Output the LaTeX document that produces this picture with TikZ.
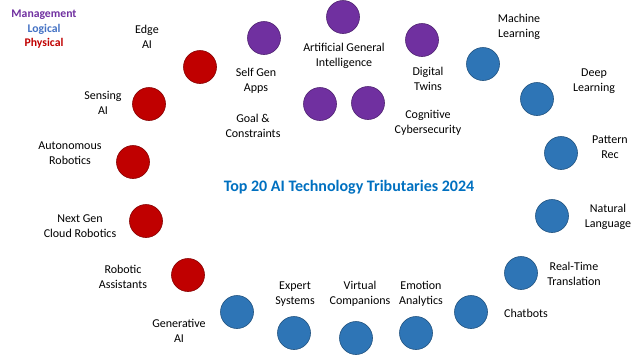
\documentclass[tikz,border=0pt]{standalone}
\usepackage{fontspec}
\setmainfont{Carlito}
\definecolor{physred}{HTML}{C00000}
\definecolor{mgmtpurple}{HTML}{7030A0}
\definecolor{logiblue}{HTML}{2E75B6}
\definecolor{legblue}{HTML}{4472C4}
\definecolor{titleblue}{HTML}{0070C0}
\begin{document}
\begin{tikzpicture}[x=1pt,y=-1pt,
  dot/.style={circle,minimum size=33pt,inner sep=0pt,line width=0.6pt},
  phys/.style={dot,fill=physred,draw=physred!70!black},
  mgmt/.style={dot,fill=mgmtpurple,draw=mgmtpurple!70!black},
  logi/.style={dot,fill=logiblue,draw=logiblue!70!black},
  lbl/.style={align=center,font=\fontsize{12}{15}\selectfont,inner sep=0pt},
  leg/.style={font=\fontsize{11.7}{14}\selectfont\bfseries,inner sep=0pt}]
\useasboundingbox (0,0) rectangle (640,360);
% legend
\node[leg,text=mgmtpurple] (lm) at (44,15) {Management};
\node[leg,text=legblue] (ll) at (44,29) {Logical};
\node[leg,text=physred] (lp) at (44,43) {Physical};
% title
\node[font=\fontsize{16}{19}\selectfont\bfseries,text=titleblue,inner sep=0pt] (title) at (349,187) {Top 20 AI Technology Tributaries 2024};
% physical
\node[phys] (edge) at (200,67) {};
\node[lbl] (edgel) at (147,37) {Edge\\AI};
\node[phys] (sens) at (149,104) {};
\node[lbl] (sensl) at (103,103) {Sensing\\AI};
\node[phys] (auto) at (133,162) {};
\node[lbl] (autol) at (70,153) {Autonomous\\Robotics};
\node[phys] (next) at (146,221) {};
\node[lbl] (nextl) at (80,226) {Next Gen\\Cloud Robotics};
\node[phys] (robo) at (188,275) {};
\node[lbl] (robol) at (123,277) {Robotic\\Assistants};
% management
\node[mgmt] (agi) at (343,17) {};
\node[lbl] (agil) at (344,56) {Artificial General\\Intelligence};
\node[mgmt] (self) at (264,38) {};
\node[lbl] (selfl) at (256,81) {Self Gen\\Apps};
\node[mgmt] (twin) at (422,40) {};
\node[lbl] (twinl) at (428,79) {Digital\\Twins};
\node[mgmt] (goal) at (320,104) {};
\node[lbl] (goall) at (253,126) {Goal \&\\Constraints};
\node[mgmt] (cog) at (368,103) {};
\node[lbl] (cogl) at (428,123) {Cognitive\\Cybersecurity};
% logical
\node[logi] (ml) at (483,64) {};
\node[lbl] (mll) at (519,27) {Machine\\Learning};
\node[logi] (dl) at (537,99) {};
\node[lbl] (dll) at (594,81) {Deep\\Learning};
\node[logi] (pr) at (561,153) {};
\node[lbl] (prl) at (610,147) {Pattern\\Rec};
\node[logi] (nl) at (552,216) {};
\node[lbl] (nll) at (608,217) {Natural\\Language};
\node[logi] (rt) at (521,273) {};
\node[lbl] (rtl) at (574,274) {Real-Time\\Translation};
\node[logi] (chat) at (471,312) {};
\node[lbl] (chatl) at (526,313) {Chatbots};
\node[logi] (emo) at (416,333) {};
\node[lbl] (emol) at (421,294) {Emotion\\Analytics};
\node[logi] (virt) at (356,338) {};
\node[lbl] (virtl) at (360,294) {Virtual\\Companions};
\node[logi] (exp) at (294,333) {};
\node[lbl] (expl) at (295,294) {Expert\\Systems};
\node[logi] (gen) at (237,312) {};
\node[lbl] (genl) at (179,331) {Generative\\AI};
\end{tikzpicture}
\end{document}
